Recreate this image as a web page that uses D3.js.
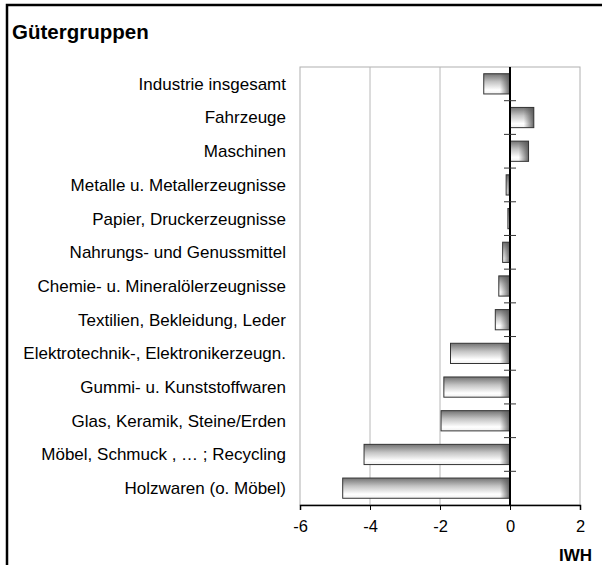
<!DOCTYPE html>
<html>
<head>
<meta charset="utf-8">
<script src="https://cdn.jsdelivr.net/npm/d3@7"></script>
<style>
  body { margin: 0; background: #fff; }
  svg { display: block; font-family: Arial, "Liberation Sans", sans-serif; }
</style>
</head>
<body>
<svg id="chart" width="602" height="565"></svg>
<script>
// Chart data
const categories = [
  "Industrie insgesamt",
  "Fahrzeuge",
  "Maschinen",
  "Metalle u. Metallerzeugnisse",
  "Papier, Druckerzeugnisse",
  "Nahrungs- und Genussmittel",
  "Chemie- u. Mineralölerzeugnisse",
  "Textilien, Bekleidung, Leder",
  "Elektrotechnik-, Elektronikerzeugn.",
  "Gummi- u. Kunststoffwaren",
  "Glas, Keramik, Steine/Erden",
  "Möbel, Schmuck , … ; Recycling",
  "Holzwaren (o. Möbel)"
];
const values = [-0.75, 0.68, 0.53, -0.11, -0.06, -0.21, -0.32, -0.42, -1.70, -1.89, -1.97, -4.17, -4.78];
const xTicks = [-6, -4, -2, 0, 2];

const svg = d3.select("#chart");
const plotLeft = 300, plotRight = 580, plotTop = 67, plotBottom = 505;

const x = d3.scaleLinear().domain([-6, 2]).range([plotLeft, plotRight]);
const y = d3.scaleBand().domain(categories).range([plotTop, plotBottom]).paddingInner(0.4).paddingOuter(0.2);

// outer frame
svg.append("rect")
  .attr("x", 7).attr("y", 5).attr("width", 620).attr("height", 600)
  .attr("fill", "none").attr("stroke", "#000").attr("stroke-width", 2.5);

svg.append("text")
  .attr("x", 12).attr("y", 39)
  .attr("font-size", 20.5).attr("font-weight", "bold")
  .text("Gütergruppen");

// gradients
const defs = svg.append("defs");
const vg = defs.append("linearGradient").attr("id", "vgrad")
  .attr("x1", 0).attr("y1", 0).attr("x2", 0).attr("y2", 1);
vg.append("stop").attr("offset", "0%").attr("stop-color", "#737373");
vg.append("stop").attr("offset", "40%").attr("stop-color", "#c4c4c4");
vg.append("stop").attr("offset", "80%").attr("stop-color", "#ffffff");
vg.append("stop").attr("offset", "100%").attr("stop-color", "#f0f0f0");

const hg = defs.append("linearGradient").attr("id", "hgrad")
  .attr("x1", 0).attr("y1", 0).attr("x2", 1).attr("y2", 0);
hg.append("stop").attr("offset", "0%").attr("stop-color", "#555").attr("stop-opacity", 0);
hg.append("stop").attr("offset", "100%").attr("stop-color", "#555").attr("stop-opacity", 0.9);

// plot frame and gridlines
svg.append("rect")
  .attr("x", plotLeft).attr("y", plotTop).attr("width", plotRight - plotLeft).attr("height", plotBottom - plotTop)
  .attr("fill", "none").attr("stroke", "#b0b0b0").attr("stroke-width", 1);

svg.append("g").selectAll("line")
  .data(xTicks.filter(d => d !== 0 && d !== -6 && d !== 2))
  .enter().append("line")
  .attr("x1", d => x(d)).attr("x2", d => x(d))
  .attr("y1", plotTop).attr("y2", plotBottom)
  .attr("stroke", "#b8b8b8").attr("stroke-width", 1);

// bars
const bars = svg.append("g").selectAll("g")
  .data(categories.map((c, i) => ({ c, v: values[i] })))
  .enter().append("g");

bars.append("rect")
  .attr("x", d => x(Math.min(0, d.v)))
  .attr("y", d => y(d.c))
  .attr("width", d => Math.abs(x(d.v) - x(0)))
  .attr("height", y.bandwidth())
  .attr("fill", "url(#vgrad)");

bars.append("rect")
  .attr("x", d => x(Math.max(0, d.v)) - Math.min(10, Math.abs(x(d.v) - x(0))))
  .attr("y", d => y(d.c))
  .attr("width", d => Math.min(10, Math.abs(x(d.v) - x(0))))
  .attr("height", y.bandwidth())
  .attr("fill", "url(#hgrad)");

bars.append("rect")
  .attr("x", d => x(Math.min(0, d.v)))
  .attr("y", d => y(d.c))
  .attr("width", d => Math.abs(x(d.v) - x(0)))
  .attr("height", y.bandwidth())
  .attr("fill", "none").attr("stroke", "#333").attr("stroke-width", 1);

// zero line and category ticks
svg.append("line")
  .attr("x1", x(0)).attr("x2", x(0)).attr("y1", plotTop).attr("y2", plotBottom)
  .attr("stroke", "#000").attr("stroke-width", 2);

svg.append("g").selectAll("line")
  .data(categories.slice(1))
  .enter().append("line")
  .attr("x1", x(0) - 6).attr("x2", x(0) + 6)
  .attr("y1", d => y(d) - y.step() * y.paddingInner() / 2)
  .attr("y2", d => y(d) - y.step() * y.paddingInner() / 2)
  .attr("stroke", "#333").attr("stroke-width", 1);

// category labels
svg.append("g").selectAll("text")
  .data(categories)
  .enter().append("text")
  .attr("x", 286)
  .attr("y", d => y(d) + y.bandwidth() / 2)
  .attr("dy", "0.35em")
  .attr("text-anchor", "end")
  .attr("font-size", 17)
  .text(d => d);

// x axis
const xAxis = svg.append("g")
  .attr("transform", `translate(0,${plotBottom})`)
  .call(d3.axisBottom(x).tickValues(xTicks).tickSize(5).tickPadding(10).tickFormat(d => d));
xAxis.select(".domain").attr("stroke", "#000").attr("stroke-width", 1.5);
xAxis.selectAll(".tick line").attr("stroke", "#000");
xAxis.selectAll(".tick text")
  .attr("font-size", 16.5).attr("font-family", "Arial, 'Liberation Sans', sans-serif")
  .attr("fill", "#000");

svg.append("text")
  .attr("x", 592).attr("y", 561)
  .attr("text-anchor", "end")
  .attr("font-size", 17).attr("font-weight", "bold")
  .text("IWH");
</script>
</body>
</html>
